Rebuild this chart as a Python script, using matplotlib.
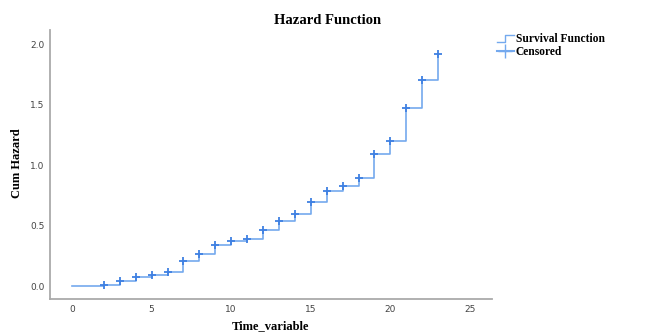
import numpy as np
import matplotlib.pyplot as plt
from matplotlib.lines import Line2D
from matplotlib.legend_handler import HandlerBase

# cumulative hazard at each time
time = [0, 1, 2, 3, 4, 5, 6, 7, 8, 9, 10, 11, 12, 13, 14, 15, 16, 17, 18, 19, 20, 21, 22, 23]
cum_hazard = [0.0, 0.0, 0.011, 0.044, 0.072, 0.094, 0.118, 0.206, 0.264, 0.338, 0.369, 0.39,
              0.462, 0.539, 0.594, 0.693, 0.787, 0.828, 0.889, 1.089, 1.202, 1.475, 1.70, 1.92]
cens_time = time[2:]
cens_hazard = cum_hazard[2:]

line_col = '#74a9ee'
mark_col = '#3f80e2'
serif = ['Liberation Serif', 'DejaVu Serif']


class StepHandler(HandlerBase):
    def create_artists(self, legend, orig, xd, yd, w, h, fontsize, trans):
        xs = [-xd, -xd + w * 0.45, -xd + w * 0.45, -xd + w]
        ys = [h * 0.1 - yd, h * 0.1 - yd, h * 0.9 - yd, h * 0.9 - yd]
        ln = Line2D(xs, ys, color=line_col, lw=1.0, transform=trans)
        return [ln]


fig = plt.figure(figsize=(6.46, 3.33), dpi=100)
ax = fig.add_axes([50 / 646, 34 / 333, 442 / 646, 269 / 333])

ax.step(time, cum_hazard, where='post', color=line_col, lw=1.2)
ax.plot(cens_time, cens_hazard, ls='none', marker='+', ms=6, mew=1.3, color=mark_col)

ax.set_xlim(-1.38, 26.38)
ax.set_ylim(-0.107, 2.116)
ax.set_xticks([0, 5, 10, 15, 20, 25])
ax.set_yticks([0.0, 0.5, 1.0, 1.5, 2.0])
ax.set_yticklabels(['0.0', '0.5', '1.0', '1.5', '2.0'])
ax.tick_params(length=0, labelsize=6.5, labelcolor='#444444', pad=4)
for s in ['top', 'right']:
    ax.spines[s].set_visible(False)
for s in ['left', 'bottom']:
    ax.spines[s].set_color('#aaaaaa')
    ax.spines[s].set_linewidth(1.3)

fig.text(271 / 646, 1 - 326 / 333, 'Time_variable', family=serif, fontweight='bold',
         fontsize=9, ha='center', va='center')
fig.text(17 / 646, 1 - 163 / 333, 'Cum Hazard', family=serif, fontweight='bold',
         fontsize=9, ha='center', va='center', rotation=90)
fig.text(328 / 646, 1 - 20 / 333, 'Hazard Function', family=serif, fontweight='bold',
         fontsize=10.5, ha='center', va='center')

h1 = Line2D([], [], color=line_col)
h2 = Line2D([0, 1], [0, 0], color=line_col, marker='+', ms=10, mew=1.0)
fig.legend([h1, h2], ['Survival Function', 'Censored'],
           handler_map={h1: StepHandler()},
           loc='upper left', bbox_to_anchor=(487 / 646, 1 - 23 / 333),
           frameon=False, handlelength=1.4, handletextpad=0.2, labelspacing=0.02,
           prop={'family': serif, 'weight': 'bold', 'size': 8.3})

fig.savefig('out.png', dpi=100)
